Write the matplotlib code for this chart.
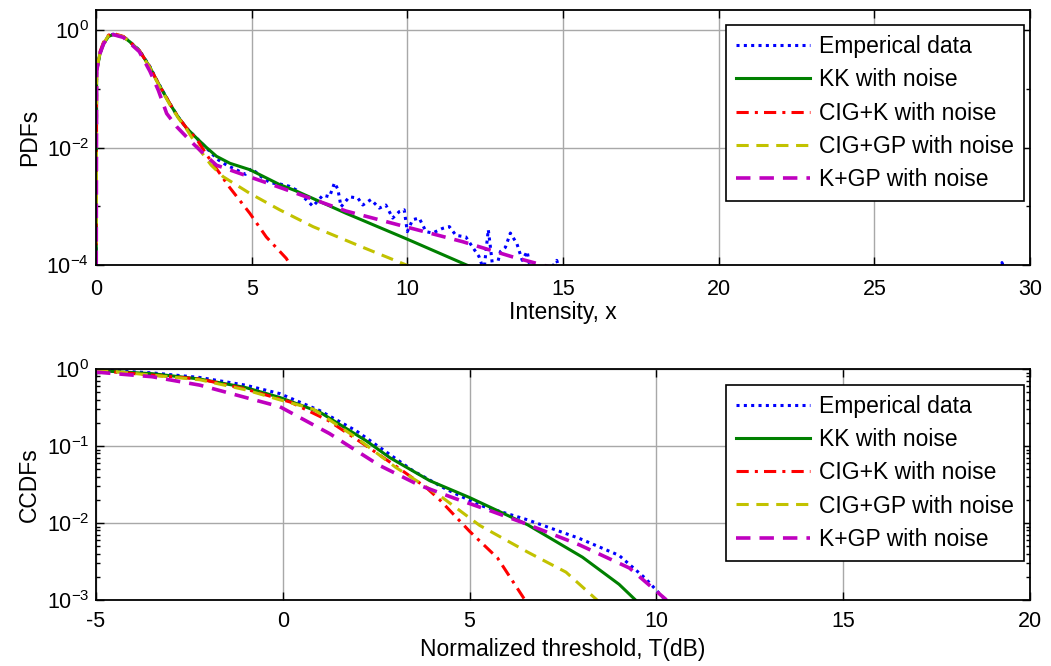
import numpy as np
import matplotlib
matplotlib.use("Agg")
import matplotlib.pyplot as plt
from matplotlib.ticker import FixedLocator, LogLocator, NullFormatter

plt.rcParams['font.family'] = ['Liberation Sans', 'DejaVu Sans']
plt.rcParams['mathtext.default'] = 'regular'
plt.rcParams['axes.unicode_minus'] = False
plt.rcParams['font.size'] = 16

# ---------------- top panel: PDFs vs intensity ----------------
labels = ["Emperical data", "KK with noise", "CIG+K with noise",
          "CIG+GP with noise", "K+GP with noise"]

pdf_emp_x = [0, 0.02, 0.13, 0.24, 0.4, 0.55, 0.88, 1.09, 1.39, 1.73, 1.94, 2.16,
             2.37, 2.64, 2.91, 3.23, 3.55, 3.9, 4.2, 4.5, 4.8, 5.0, 5.3, 5.6, 5.9,
             6.2, 6.43, 6.75, 6.97, 7.29, 7.5, 7.66, 7.77, 7.87, 8.14, 8.41, 8.57,
             8.83, 9.1, 9.31, 9.53, 9.74, 9.9, 10.0, 10.17, 10.38, 10.6, 10.81,
             11.13, 11.35, 11.56, 11.88, 12.1, 12.3, 12.46, 12.6, 12.67, 12.78,
             12.99, 13.15, 13.31, 13.52, 13.69, 13.85, 14.0, 14.4, 14.8, 15.0,
             28.9, 29.1, 29.3]
pdf_emp_y = [1e-6, 0.209, 0.407, 0.589, 0.794, 0.851, 0.776, 0.631, 0.457, 0.240,
             0.145, 0.0891, 0.0562, 0.0331, 0.0214, 0.0145, 0.0098, 6.3e-3, 5.0e-3,
             4.2e-3, 3.5e-3, 4.4e-3, 3.2e-3, 2.5e-3, 2.4e-3, 2.2e-3, 1.9e-3, 1.3e-3,
             1.0e-3, 1.55e-3, 1.45e-3, 2.5e-3, 1.95e-3, 9.8e-4, 1.45e-3, 1.38e-3,
             1.05e-3, 1.3e-3, 9.3e-4, 1.05e-3, 6.3e-4, 8.1e-4, 8.7e-4, 3.7e-4,
             5.9e-4, 6.3e-4, 3.7e-4, 3.5e-4, 4.2e-4, 4.5e-4, 3.2e-4, 3.0e-4, 2.0e-4,
             1.4e-4, 8e-5, 4.0e-4, 2.0e-4, 6e-5, 1.7e-4, 2.0e-4, 3.5e-4, 2.3e-4,
             1.2e-4, 1.7e-4, 6e-5, 6e-5, 1.2e-4, 5e-5, 5e-5, 1.1e-4, 5e-5]

pdf_kk_x = [0, 0.02, 0.13, 0.24, 0.4, 0.55, 0.88, 1.09, 1.39, 1.73, 1.94, 2.16,
            2.37, 2.64, 2.91, 3.23, 3.55, 3.87, 4.3, 4.94, 5.9, 6.43, 8.03, 10.0,
            12.0, 12.3]
pdf_kk_y = [1e-6, 0.2, 0.4, 0.58, 0.78, 0.84, 0.77, 0.63, 0.45, 0.235, 0.142,
            0.088, 0.056, 0.033, 0.0214, 0.0145, 0.0100, 7.1e-3, 5.4e-3, 4.2e-3,
            2.34e-3, 1.82e-3, 7.6e-4, 2.75e-4, 9.5e-5, 8e-5]

pdf_cigk_x = [0, 0.02, 0.13, 0.24, 0.4, 0.55, 0.88, 1.09, 1.39, 1.73, 1.94, 2.16,
              2.37, 2.64, 2.91, 3.23, 3.55, 4.29, 4.94, 5.47, 6.11, 6.3]
pdf_cigk_y = [1e-6, 0.22, 0.43, 0.62, 0.82, 0.88, 0.78, 0.63, 0.45, 0.235, 0.142,
              0.088, 0.056, 0.033, 0.0214, 0.0140, 7.6e-3, 2.1e-3, 7.6e-4, 3.0e-4,
              1.3e-4, 8.9e-5]

pdf_cigp_x = [0, 0.02, 0.13, 0.24, 0.4, 0.55, 0.88, 1.09, 1.39, 1.73, 1.94, 2.16,
              2.37, 2.64, 2.91, 3.33, 3.7, 4.08, 4.94, 5.9, 6.97, 8.57, 10.01, 10.2]
pdf_cigp_y = [1e-6, 0.21, 0.41, 0.6, 0.8, 0.86, 0.77, 0.62, 0.44, 0.23, 0.138,
              0.085, 0.054, 0.032, 0.0205, 9.1e-3, 5.0e-3, 3.2e-3, 1.66e-3, 8.7e-4,
              4.5e-4, 2.0e-4, 9.8e-5, 9e-5]

pdf_kgp_x = [0, 0.02, 0.13, 0.24, 0.4, 0.55, 0.88, 1.09, 1.39, 1.73, 2.0, 2.27,
             2.6, 3.0, 3.33, 3.87, 4.94, 5.9, 6.75, 8.03, 10.0, 11.77, 13.37,
             14.34, 15.0]
pdf_kgp_y = [1e-6, 0.2, 0.4, 0.58, 0.78, 0.84, 0.75, 0.6, 0.43, 0.2, 0.095,
             0.038, 0.0224, 0.0135, 9.1e-3, 5.0e-3, 3.16e-3, 2.1e-3, 1.45e-3,
             8.3e-4, 4.4e-4, 2.5e-4, 1.38e-4, 1.0e-4, 8e-5]

# ---------------- bottom panel: CCDFs vs threshold ----------------
ccdf_emp_x = [-5, -3.5, -2.22, -1, -0.08, 0.99, 1.96, 2.6, 3.48, 4.37, 5.27, 6.55,
              7.94, 9.0, 9.71, 10.2, 10.4]
ccdf_emp_y = [0.977, 0.891, 0.776, 0.617, 0.479, 0.288, 0.158, 0.0955, 0.0479,
              0.0275, 0.017, 0.011, 6.3e-3, 3.8e-3, 1.9e-3, 1.05e-3, 7.9e-4]

ccdf_kk_x = [-5, -3.5, -2.22, -1, -0.08, 0.99, 2.23, 2.86, 3.93, 5.0, 6.55, 8.02,
             9.0, 9.44, 9.6]
ccdf_kk_y = [0.955, 0.87, 0.741, 0.575, 0.427, 0.275, 0.117, 0.0708, 0.0355,
             0.0214, 9.5e-3, 3.6e-3, 1.6e-3, 1.0e-3, 7.9e-4]

ccdf_cigk_x = [-5, -2.22, -1, 0.2, 1.22, 2.15, 3.08, 3.84, 4.2, 5.0, 5.75, 6.47, 6.6]
ccdf_cigk_y = [0.955, 0.741, 0.55, 0.372, 0.214, 0.107, 0.0525, 0.0288, 0.02,
               7.8e-3, 3.5e-3, 1.02e-3, 7.9e-4]

ccdf_cigp_x = [-5, -2.22, -1, -0.08, 0.81, 1.96, 3.03, 4.19, 5.27, 6.55, 7.58,
               8.43, 8.6]
ccdf_cigp_y = [0.977, 0.724, 0.537, 0.398, 0.302, 0.129, 0.0525, 0.0229, 9.3e-3,
               4.2e-3, 2.3e-3, 9.8e-4, 7.9e-4]

ccdf_kgp_x = [-5, -3.5, -2.22, -1, -0.08, 1.25, 2.58, 3.65, 4.6, 5.61, 6.5, 7.94,
              9.28, 10.25, 10.4]
ccdf_kgp_y = [0.912, 0.794, 0.617, 0.427, 0.324, 0.145, 0.0562, 0.031, 0.0209,
              0.0141, 9.8e-3, 5.2e-3, 2.6e-3, 1.02e-3, 7.9e-4]

top_xticks = [0, 5, 10, 15, 20, 25, 30]
top_yticks = [1e-4, 1e-2, 1e0]
top_yticklabels = ['$10^{-4}$', '$10^{-2}$', '$10^{0}$']
bot_xticks = [-5, 0, 5, 10, 15, 20]
bot_yticks = [1e-3, 1e-2, 1e-1, 1e0]
bot_yticklabels = ['$10^{-3}$', '$10^{-2}$', '$10^{-1}$', '$10^{0}$']

styles = [
    dict(color=(0, 0, 1), linestyle=(0, (1, 1.4)), lw=2.2),
    dict(color=(0, 0.5, 0), linestyle='-', lw=2.2),
    dict(color=(1, 0, 0), linestyle=(0, (4, 2, 1, 2)), lw=2.2),
    dict(color=(0.76, 0.76, 0), linestyle=(0, (4, 2.5)), lw=2.2),
    dict(color=(0.75, 0, 0.75), linestyle=(0, (4, 2.5)), lw=2.6),
]

fig = plt.figure(figsize=(10.51, 6.66), dpi=100)
W, H = 1051, 666
ax1 = fig.add_axes([96 / W, 1 - 265 / H, (1030 - 96) / W, (265 - 10) / H])
ax2 = fig.add_axes([96 / W, 1 - 600 / H, (1030 - 96) / W, (600 - 369) / H])

top_data = [(pdf_emp_x, pdf_emp_y), (pdf_kk_x, pdf_kk_y), (pdf_cigk_x, pdf_cigk_y),
            (pdf_cigp_x, pdf_cigp_y), (pdf_kgp_x, pdf_kgp_y)]
bot_data = [(ccdf_emp_x, ccdf_emp_y), (ccdf_kk_x, ccdf_kk_y),
            (ccdf_cigk_x, ccdf_cigk_y), (ccdf_cigp_x, ccdf_cigp_y),
            (ccdf_kgp_x, ccdf_kgp_y)]

for ax, data in ((ax1, top_data), (ax2, bot_data)):
    for (xs, ys), st, lab in zip(data, styles, labels):
        ax.plot(xs, ys, label=lab, **st)
    ax.set_yscale('log')

ax1.set_xlim(0, 30)
ax1.set_ylim(1e-4, 2.2)
ax1.set_xticks(top_xticks)
ax1.set_yticks(top_yticks)
ax1.set_yticklabels(top_yticklabels)
ax1.set_xlabel('Intensity, x', fontsize=16.5, labelpad=1)
ax1.set_ylabel('PDFs', fontsize=16.5, labelpad=4)

ax2.set_xlim(-5, 20)
ax2.set_ylim(1e-3, 1)
ax2.set_xticks(bot_xticks)
ax2.set_yticks(bot_yticks)
ax2.set_yticklabels(bot_yticklabels)
ax2.yaxis.set_minor_locator(LogLocator(base=10, subs=np.arange(2, 10)))
ax2.yaxis.set_minor_formatter(NullFormatter())
ax2.set_xlabel('Normalized threshold, T(dB)', fontsize=16.5, labelpad=4)
ax2.set_ylabel('CCDFs', fontsize=16.5, labelpad=4)

ax1.yaxis.set_minor_locator(FixedLocator([1e-3, 1e-1]))
ax1.yaxis.set_minor_formatter(NullFormatter())

for ax in (ax1, ax2):
    ax.grid(True, which='major', color='#a8a8a8', lw=1.0, ls='-')
    ax.tick_params(which='both', direction='in', top=True, right=True,
                   labelsize=15.5)
    ax.tick_params(axis='y', pad=5)
    ax.tick_params(which='major', length=6, width=1)
    ax.tick_params(which='minor', length=3, width=1)
    for sp in ax.spines.values():
        sp.set_linewidth(1.3)
        sp.set_color('black')
ax1.tick_params(axis='x', pad=10)
ax2.tick_params(axis='x', pad=8)

leg_kw = dict(loc='upper right', fontsize=16.5, handlelength=3.2, handletextpad=0.4,
              labelspacing=0.44, borderpad=0.45, borderaxespad=0, fancybox=False,
              framealpha=1, edgecolor='black')
l1 = ax1.legend(bbox_to_anchor=(0.9936, 0.941), **leg_kw)
l2 = ax2.legend(bbox_to_anchor=(0.9936, 0.931), **leg_kw)
for l in (l1, l2):
    l.get_frame().set_linewidth(1.2)

fig.savefig('out.png', dpi=100)
